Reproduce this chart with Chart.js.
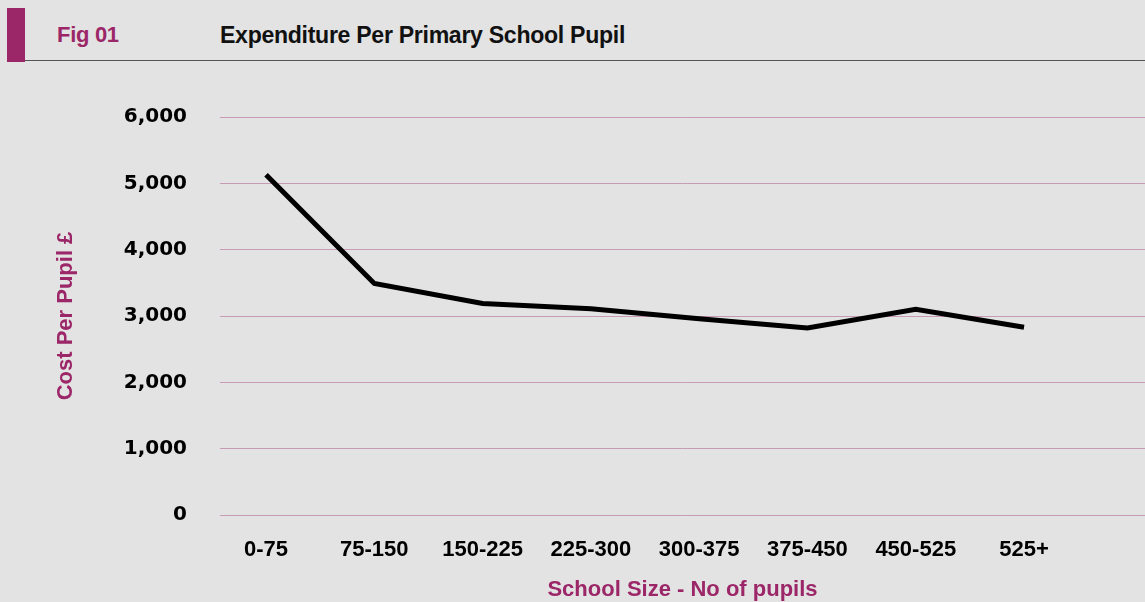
<!DOCTYPE html>
<html>
<head>
<meta charset="utf-8">
<title>Expenditure Per Primary School Pupil</title>
<script src="https://cdn.jsdelivr.net/npm/chart.js@4.4.1/dist/chart.umd.min.js"></script>
<style>
  html, body { margin: 0; padding: 0; background: #e3e3e3; }
  body { width: 1145px; height: 602px; position: relative; overflow: hidden; }
  .bar { position: absolute; left: 7px; top: 8px; width: 18px; height: 54px; background: #9c2768; }
  .rule { position: absolute; left: 25px; right: 0; top: 60px; height: 0; border-top: 1.5px solid #555; }
  .fig, .title { position: absolute; top: 22px; font-family: "Liberation Sans", Arial, sans-serif; font-weight: bold; font-size: 22px; line-height: 26px; letter-spacing: -0.3px; }
  .fig { left: 57px; color: #9c2768; }
  .title { left: 220px; color: #111; font-size: 23.1px; }
  #wrap { position: absolute; left: 0; top: 0; width: 1145px; height: 602px; }
</style>
</head>
<body>
<div class="bar"></div>
<div class="rule"></div>
<div class="fig">Fig 01</div>
<div class="title">Expenditure Per Primary School Pupil</div>
<div id="wrap"><canvas id="chart"></canvas></div>
<script>
// School size bands (pupils) and spending per pupil in pounds
const sizeBands = ['0-75', '75-150', '150-225', '225-300', '300-375', '375-450', '450-525', '525+'];
const costPerPupil = [5130, 3490, 3190, 3110, 2960, 2820, 3100, 2830];
const yTickValues = [0, 1000, 2000, 3000, 4000, 5000, 6000];

const magenta = '#9c2768';

const points = sizeBands.map((band, i) => ({ x: i, y: costPerPupil[i] }));

new Chart(document.getElementById('chart'), {
  type: 'line',
  data: {
    datasets: [{
      label: 'Cost Per Pupil £',
      data: points,
      borderColor: '#000',
      borderWidth: 5,
      borderJoinStyle: 'miter',
      borderCapStyle: 'butt',
      pointRadius: 0,
      tension: 0,
      fill: false
    }]
  },
  options: {
    responsive: true,
    maintainAspectRatio: false,
    animation: false,
    layout: { padding: { top: 117, right: 0, bottom: 0, left: 0 } },
    plugins: { legend: { display: false }, tooltip: { enabled: false } },
    scales: {
      x: {
        type: 'linear',
        min: -0.425,
        max: 8.117,
        afterBuildTicks: (scale) => { scale.ticks = sizeBands.map((_, i) => ({ value: i })); },
        afterFit: (scale) => { scale.height = 87; },
        ticks: {
          autoSkip: false,
          maxRotation: 0,
          padding: 22,
          color: '#000',
          font: { family: '"Liberation Sans", Arial, sans-serif', weight: 'bold', size: 22 },
          callback: (v) => sizeBands[v] ?? ''
        },
        grid: { display: false, drawTicks: false },
        border: { display: false },
        title: {
          display: true,
          text: 'School Size - No of pupils',
          color: magenta,
          font: { family: '"Liberation Sans", Arial, sans-serif', weight: 'bold', size: 22 },
          padding: { top: 0, bottom: -1 }
        }
      },
      y: {
        min: 0,
        max: 6000,
        afterBuildTicks: (scale) => { scale.ticks = yTickValues.map(v => ({ value: v })); },
        afterFit: (scale) => { scale.width = 220; },
        ticks: {
          padding: 33,
          color: '#000',
          font: { family: '"DejaVu Sans", sans-serif', weight: 'bold', size: 20 },
          callback: (v) => v.toLocaleString('en-GB')
        },
        grid: { color: '#c79bb6', lineWidth: 1, drawTicks: false },
        border: { display: false },
        title: {
          display: true,
          text: 'Cost Per Pupil £',
          color: magenta,
          font: { family: '"Liberation Sans", Arial, sans-serif', weight: 'bold', size: 22 },
          padding: { top: 53, bottom: 0 }
        }
      }
    }
  }
});
</script>
</body>
</html>
